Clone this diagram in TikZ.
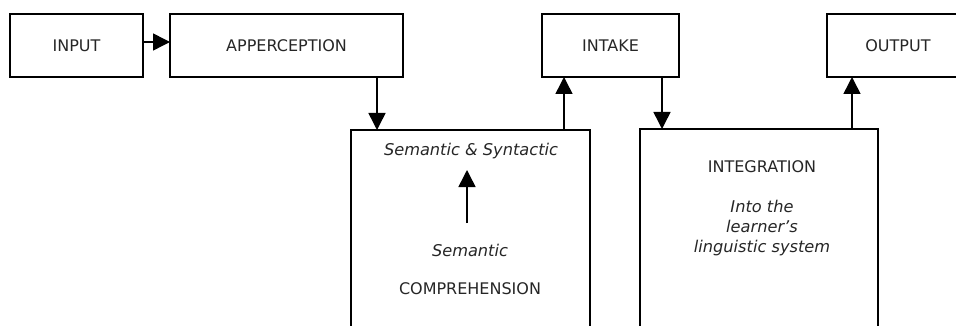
\documentclass[tikz,border=0pt]{standalone}
\usepackage{fontspec}
\setmainfont{DejaVu Sans}
\usetikzlibrary{arrows.meta}
\begin{document}
\begin{tikzpicture}[x=1pt,y=-1pt,
  box/.style={draw, line width=2.8pt, inner sep=0pt, outer sep=0pt, anchor=north west,
    text=black!85, font=\fontsize{16}{19}\selectfont},
  lbl/.style={text=black!85, font=\fontsize{16}{19}\selectfont, inner sep=0pt},
  ilbl/.style={text=black!85, font=\fontsize{16.2}{20}\selectfont\itshape, inner sep=0pt, align=center},
  arr/.style={line width=1.5pt, -{Triangle[length=17pt,width=17pt]}}]
\useasboundingbox (0,0) rectangle (956,326);
\begin{scope}
\clip (0,0) rectangle (956,326);
% top row
\node[box, minimum width=133pt, minimum height=63pt] (input) at (10,14) {INPUT};
\node[box, minimum width=233pt, minimum height=63pt] (apper) at (170,14) {APPERCEPTION};
\node[box, minimum width=137pt, minimum height=63pt] (intake) at (542,14) {INTAKE};
\node[box, minimum width=142pt, minimum height=63pt] (output) at (827,14) {OUTPUT};
% lower boxes (open at the bottom, cut by the frame)
\node[box, minimum width=239pt, minimum height=230pt] (comp) at (351,130) {};
\node[box, minimum width=238pt, minimum height=230pt] (integ) at (640,129) {};
% texts in comprehension
\node[ilbl] (semsyn) at (471,151) {Semantic \& Syntactic};
\node[ilbl] (sem) at (470,250) {Semantic};
\node[lbl] (comptxt) at (470,289) {COMPREHENSION};
% texts in integration
\node[lbl] (integtxt) at (762,167) {INTEGRATION};
\node[ilbl] (intotxt) at (762,228) {Into the\\learner’s\\linguistic system};
% connectors
\draw[arr] ([yshift=3.5pt]input.east) -- ([yshift=3.5pt]input.east -| apper.west);
\coordinate (c1) at (377,77);
\draw[arr] (c1 |- apper.south) -- (c1 |- comp.north);
\coordinate (c2) at (564,77);
\draw[arr] (c2 |- comp.north) -- (c2 |- intake.south);
\coordinate (c3) at (662,77);
\draw[arr] (c3 |- intake.south) -- (c3 |- integ.north);
\coordinate (c4) at (852,77);
\draw[arr] (c4 |- integ.north) -- (c4 |- output.south);
\coordinate (ia) at (467,223);
\coordinate (ib) at (467,170);
\draw[arr] (ia) -- (ib);
\end{scope}
\end{tikzpicture}
\end{document}
